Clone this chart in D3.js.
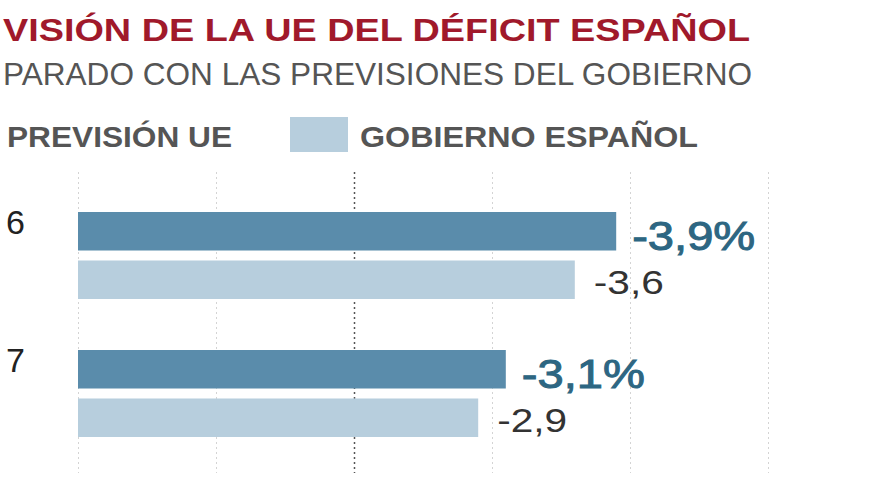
<!DOCTYPE html>
<html>
<head>
<meta charset="utf-8">
<script src="https://cdn.jsdelivr.net/npm/d3@7"></script>
<style>
  html, body { margin: 0; padding: 0; background: #fff; }
  svg { display: block; }
  text { font-family: "Liberation Sans", Arial, sans-serif; }
</style>
</head>
<body>
<script>
// ---- Data ----
const categories = ["6", "7"];
const seriesNames = ["PREVISIÓN UE", "GOBIERNO ESPAÑOL"];
const euValues = [-3.9, -3.1];
const govValues = [-3.6, -2.9];
const euLabels = ["-3,9%", "-3,1%"];
const govLabels = ["-3,6", "-2,9"];
const gridTicks = [0, 1, 2, 3, 4, 5];
const referenceTick = 2;
const titleText = "VISIÓN DE LA UE DEL DÉFICIT ESPAÑOL";
const subtitleText = "PARADO CON LAS PREVISIONES DEL GOBIERNO";

// ---- Setup ----
const W = 880, H = 495;
const svg = d3.select("body").append("svg").attr("width", W).attr("height", H);

const colors = { eu: "#5a8cab", gov: "#b7cedd" };
const labelColors = { eu: "#2d6682", gov: "#333333" };

const x = d3.scaleLinear().domain([0, 5]).range([78, 768]);
const y = d3.scaleBand().domain(categories).range([212, 437]).paddingInner(51 / 138).paddingOuter(0);
const ySub = d3.scaleBand().domain(["eu", "gov"]).range([0, y.bandwidth()]).paddingInner(0.206);

// ---- Title / subtitle ----
svg.append("text").attr("x", 3).attr("y", 41)
  .attr("font-size", 32).attr("font-weight", "bold").attr("fill", "#a0192b")
  .attr("textLength", 747).attr("lengthAdjust", "spacingAndGlyphs")
  .text(titleText);
svg.append("text").attr("x", 3).attr("y", 85)
  .attr("font-size", 31).attr("fill", "#555")
  .attr("textLength", 749).attr("lengthAdjust", "spacingAndGlyphs")
  .text(subtitleText);

// ---- Legend ----
svg.append("text").attr("x", 7).attr("y", 147)
  .attr("font-size", 30).attr("font-weight", "bold").attr("fill", "#555")
  .attr("textLength", 225).attr("lengthAdjust", "spacingAndGlyphs")
  .text(seriesNames[0]);
svg.append("rect").attr("x", 290).attr("y", 117).attr("width", 58).attr("height", 35)
  .attr("fill", colors.gov);
svg.append("text").attr("x", 360).attr("y", 147)
  .attr("font-size", 30).attr("font-weight", "bold").attr("fill", "#555")
  .attr("textLength", 338).attr("lengthAdjust", "spacingAndGlyphs")
  .text(seriesNames[1]);

// ---- Gridlines ----
const gridTop = 172, gridBottom = 473;
const grid = svg.append("g").attr("transform", `translate(0,${gridTop})`)
  .call(d3.axisTop(x).tickValues(gridTicks).tickSize(-(gridBottom - gridTop)).tickFormat(""));
grid.select(".domain").remove();
grid.selectAll(".tick line")
  .attr("stroke", d => d === referenceTick ? "#555" : "#d4d4d4")
  .attr("stroke-width", d => d === referenceTick ? 1.5 : 1)
  .attr("stroke-dasharray", "2,3");

// ---- Bars ----
const rows = categories.map((c, i) => ({
  cat: c,
  bars: [
    { key: "eu", value: euValues[i], label: euLabels[i] },
    { key: "gov", value: govValues[i], label: govLabels[i] }
  ]
}));

const g = svg.selectAll(".row").data(rows).join("g")
  .attr("class", "row")
  .attr("transform", d => `translate(0,${y(d.cat)})`);

g.selectAll("rect").data(d => d.bars).join("rect")
  .attr("x", x(0))
  .attr("y", d => ySub(d.key))
  .attr("width", d => x(Math.abs(d.value)) - x(0))
  .attr("height", ySub.bandwidth())
  .attr("fill", d => colors[d.key]);

// value labels
g.selectAll("text.val").data(d => d.bars).join("text")
  .attr("class", "val")
  .attr("x", d => x(Math.abs(d.value)) + (d.key === "eu" ? 16 : 19))
  .attr("y", d => ySub(d.key) + ySub.bandwidth() / 2)
  .attr("dy", d => d.key === "eu" ? 19 : 14)
  .attr("font-size", d => d.key === "eu" ? 40 : 34)
  .attr("fill", d => labelColors[d.key])
  .attr("stroke", d => d.key === "eu" ? labelColors.eu : "none")
  .attr("stroke-width", 1)
  .attr("textLength", d => d.key === "eu" ? 123 : 70)
  .attr("lengthAdjust", "spacingAndGlyphs")
  .text(d => d.label);

// category labels
g.append("text")
  .attr("x", 25).attr("y", 22)
  .attr("text-anchor", "end")
  .attr("font-size", 34).attr("fill", "#222")
  .text(d => d.cat);
</script>
</body>
</html>
